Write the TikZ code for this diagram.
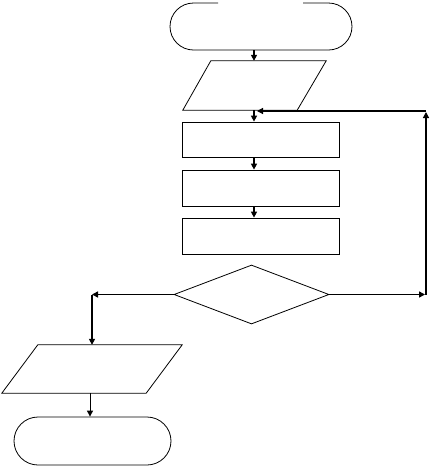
\documentclass[tikz,border=0pt]{standalone}
\usetikzlibrary{arrows.meta,shapes.geometric,shapes.misc,calc}
\begin{document}
\begin{tikzpicture}[x=1pt,y=-1pt,
  shapeline/.style={draw=black,line width=0.8pt},
  conn/.style={draw=black,line width=1.6pt,-{Triangle[length=6pt,width=6pt]}},
  thinconn/.style={draw=black,line width=1pt,-{Triangle[length=6pt,width=6pt]}},
  boxnode/.style={shapeline,rectangle,minimum width=157pt,inner sep=0pt},
  frame/.style={draw=none,rectangle,inner sep=0pt}]
\useasboundingbox (0,0) rectangle (432,467);
\coordinate (spine) at (254,0);
% top terminator (with gap in top edge)
\node[frame,minimum width=182pt,minimum height=47pt] (t1) at (261,26.5) {};
\draw[shapeline] (218,3) -- (193.5,3) arc[start angle=90,end angle=270,radius=23.5pt]
  -- (328.5,50) arc[start angle=-90,end angle=90,radius=23.5pt] -- (303,3);
% input parallelogram
\node[frame,minimum width=143pt,minimum height=49pt] (p1) at (254.5,85.5) {};
\draw[shapeline] ([xshift=28pt]p1.north west) -- (p1.north east) -- ([xshift=-29pt]p1.south east) -- (p1.south west) -- cycle;
% process boxes
\node[boxnode,minimum height=35pt] (r1) at (260.5,139.5) {};
\node[boxnode,minimum height=36pt] (r2) at (260.5,188) {};
\node[boxnode,minimum height=36pt] (r3) at (260.5,236) {};
% decision
\node[shapeline,diamond,minimum width=155pt,minimum height=59pt,inner sep=0pt] (d) at (251.5,294.5) {};
% output parallelogram
\node[frame,minimum width=180pt,minimum height=48pt] (p2) at (92,369) {};
\draw[shapeline] ([xshift=36pt]p2.north west) -- (p2.north east) -- ([xshift=-36pt]p2.south east) -- (p2.south west) -- cycle;
% end terminator
\node[shapeline,rounded rectangle,minimum width=157pt,minimum height=48pt,inner sep=0pt] (t2) at (92.5,441) {};
% connector points
\coordinate (rc) at (d.east -| 425,0);
\coordinate (rt) at (426,112);
\coordinate (lc) at (d.west -| 92,0);
\coordinate (back) at (257,111);
% connectors
\draw[conn] (t1.south -| spine) -- (p1.north -| spine);
\draw[conn] (p1.south -| spine) -- (r1.north -| spine);
\draw[conn] (r1.south -| spine) -- (r2.north -| spine);
\draw[conn] (r2.south -| spine) -- (r3.north -| spine);
\draw[conn] (d.east) -- (rc);
\draw[conn,line width=1.2pt] (d.east -| rt) -- (rt);
\draw[conn,line width=1.2pt] (426,111) -- (back);
\draw[conn] (d.west) -- (lc);
\draw[conn] (lc) -- (p2.north -| lc);
\draw[thinconn] (p2.south -| 90,0) -- (t2.north -| 90,0);
\end{tikzpicture}
\end{document}
